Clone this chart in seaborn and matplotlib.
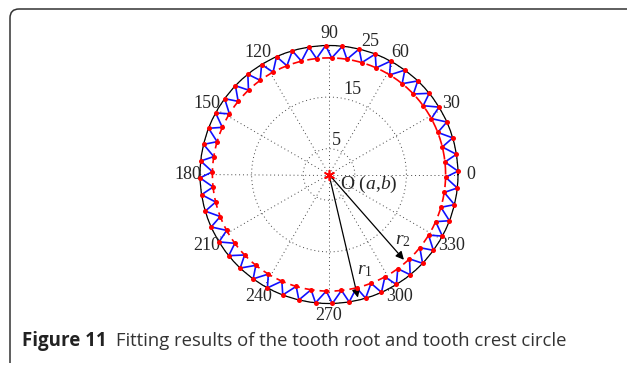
import numpy as np
import pandas as pd
import matplotlib
matplotlib.use("Agg")
import matplotlib.pyplot as plt
import seaborn as sns
from matplotlib.path import Path
from matplotlib.patches import PathPatch

# ---------------- data ----------------
n_teeth = 48
r_tip = 25.0          # tooth crest circle radius
r_root = 22.6         # tooth root circle radius
tip_phase_deg = 91.5  # angle of one tooth tip
# one tooth profile: (angle offset in tooth pitch fraction, radius)
tooth_shape_frac = [0.0, 0.38, 1.0]
tooth_shape_r = [r_root, r_tip, r_root]
r_ticks = [5, 15, 25]
theta_ticks = [0, 30, 60, 90, 120, 150, 180, 210, 240, 270, 300, 330]
arrow_r1 = (-76.8, 24.5)
arrow_r2 = (-48.7, 22.0)

# ---------------- build profile ----------------
pitch = 360.0 / n_teeth
root_phase = tip_phase_deg - 0.38 * pitch
th, rr = [], []
for k in range(n_teeth):
    base = root_phase + k * pitch
    for f, r in zip(tooth_shape_frac[:-1], tooth_shape_r[:-1]):
        th.append(base + f * pitch)
        rr.append(r)
th.append(th[0] + 360.0)
rr.append(rr[0])
profile = pd.DataFrame({"theta": np.deg2rad(th), "r": rr, "idx": np.arange(len(th))})
pts = profile.iloc[:-1]

circ_t = np.linspace(0, 2 * np.pi, 361)
root_circle = pd.DataFrame({"theta": circ_t, "r": np.full_like(circ_t, r_root)})

# ---------------- figure ----------------
sns.set_theme(style="white")
plt.rcParams["font.family"] = ["Liberation Serif", "DejaVu Serif"]
plt.rcParams["mathtext.fontset"] = "custom"
plt.rcParams["mathtext.rm"] = "Liberation Serif"
plt.rcParams["mathtext.it"] = "Liberation Serif:italic"

W, H = 629, 366
fig = plt.figure(figsize=(W / 100, H / 100), dpi=100)
fig.patch.set_facecolor("white")
cx, cy, R = 329, 174.5, 129
ax = fig.add_axes([(cx - R) / W, (H - cy - R) / H, 2 * R / W, 2 * R / H], projection="polar")
ax.set_facecolor("white")
ax.set_ylim(0, 25)
ax.set_yticks(r_ticks)
ax.set_xticks(np.deg2rad(theta_ticks))
ax.set_xticklabels([])
ax.set_yticklabels([])
ax.grid(True, color="#444444", linestyle=(0, (1, 3)), linewidth=0.7)
ax.spines["polar"].set_color("black")
ax.spines["polar"].set_linewidth(0.9)
ax.tick_params(length=0)

# root circle (red dashed)
sns.lineplot(data=root_circle, x="theta", y="r", ax=ax, color="red",
             linestyle=(0, (6, 3)), linewidth=1.2, sort=False, estimator=None)
# tooth profile (blue)
sns.lineplot(data=profile, x="theta", y="r", ax=ax, color="#1010ff",
             linewidth=1.2, sort=False, estimator=None, clip_on=False)
# tip / root points
sns.scatterplot(data=pts, x="theta", y="r", ax=ax, color="red", s=13,
                edgecolor="red", linewidth=0, zorder=5, clip_on=False)
# centre marker
ax.scatter([0], [0], marker=(6, 2, 0), s=50, color="red", linewidths=1.2, zorder=6)
ax.set_xlabel("")
ax.set_ylabel("")
ax.set_ylim(0, 25)

# arrows
for ang, rad in (arrow_r1, arrow_r2):
    ax.annotate("", xy=(np.deg2rad(ang), rad), xytext=(0, 0),
                arrowprops=dict(arrowstyle="-|>", color="black", lw=0.9,
                                mutation_scale=12, shrinkA=0, shrinkB=0))
ax.text(np.deg2rad(-69.3), 19.8, r"$r_1$", fontsize=14, ha="center", va="center")
ax.text(np.deg2rad(-41.5), 19.2, r"$r_2$", fontsize=14, ha="center", va="center")

# angle labels
for t in theta_ticks:
    ax.text(np.deg2rad(t), 27.4, str(t), fontsize=13, ha="center", va="center", clip_on=False)
# radial labels
for val, ang, dist in ((5, 78.5, 6.8), (15, 74.8, 17.0), (25, 72.8, 26.9)):
    ax.text(np.deg2rad(ang), dist, str(val), fontsize=13, ha="center", va="center", clip_on=False)

fig.text(340 / W, 1 - 184 / H, r"O ($a$,$b$)", fontsize=14, ha="left", va="center")

# frame
r0 = 9
verts = [(W - 2, H - 9), (10 + r0, H - 9), (10, H - 9), (10, H - 9 - r0), (10, H - 363)]
codes = [Path.MOVETO, Path.LINETO, Path.CURVE3, Path.CURVE3, Path.LINETO]
frame = PathPatch(Path(verts, codes), transform=None, fill=False, edgecolor="#333333", linewidth=1.1)
fig.patches.append(frame)

# caption
t1 = fig.text(22 / W, 1 - 341 / H, "Figure 11", fontsize=13.5, fontweight="bold",
              family="Open Sans", color="#222222", ha="left", va="center")
fig.canvas.draw()
bb = t1.get_window_extent()
fig.text((bb.x1 + 9) / W, 1 - 341 / H, "Fitting results of the tooth root and tooth crest circle",
         fontsize=13.3, family="Open Sans", color="#333333", ha="left", va="center")

fig.savefig("out.png", dpi=100, facecolor="white")
